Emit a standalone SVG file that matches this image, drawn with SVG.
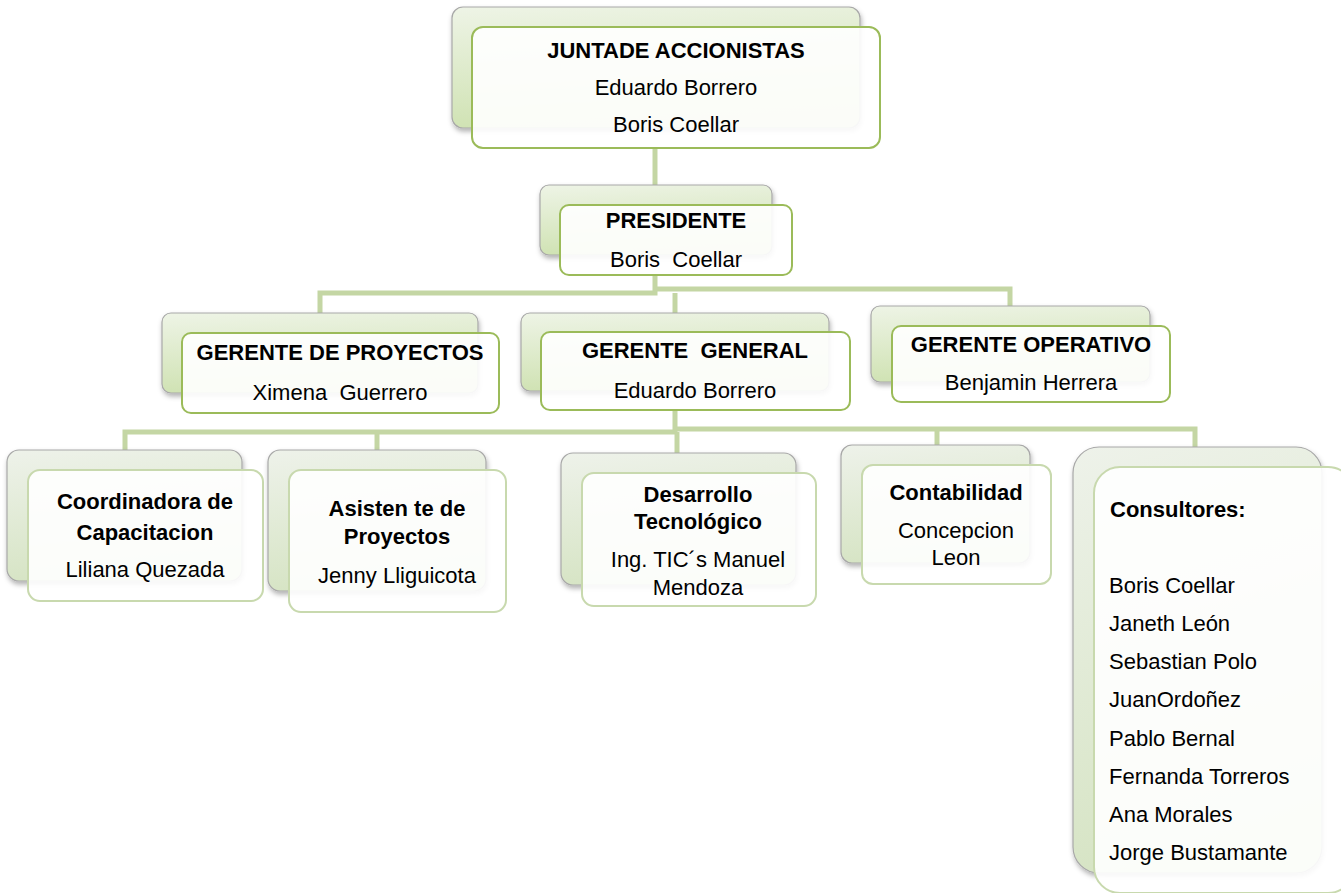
<svg xmlns="http://www.w3.org/2000/svg" width="1341" height="893" viewBox="0 0 1341 893">
<defs>
<linearGradient id="gBackTop" x1="0" y1="0" x2="0.2" y2="1">
<stop offset="0" stop-color="#eef4e6"/>
<stop offset="1" stop-color="#cfe2b2"/>
</linearGradient>
<linearGradient id="gBack" x1="0" y1="0" x2="0.2" y2="1">
<stop offset="0" stop-color="#eef2ea"/>
<stop offset="1" stop-color="#d6e4c4"/>
</linearGradient>
<filter id="sh" x="-10%" y="-10%" width="120%" height="130%">
<feDropShadow dx="1" dy="3" stdDeviation="2.5" flood-color="#000" flood-opacity="0.3"/>
</filter>
</defs>
<style>
.back{fill:url(#gBack);stroke:#a8a8a8;stroke-width:1.2;filter:url(#sh)}
.backTop{fill:url(#gBackTop);stroke:#a8a8a8;stroke-width:1.2;filter:url(#sh)}
.front{fill:#ffffff;fill-opacity:0.9;stroke:#c8d9ae;stroke-width:2}
.frontDark{fill:#ffffff;fill-opacity:0.9;stroke:#9bbb59;stroke-width:2}
.conn{fill:none;stroke:#c4d6a4;stroke-width:5}
text{font-family:"Liberation Sans Narrow","Arial Narrow","Liberation Sans",Arial,sans-serif;font-size:22px;fill:#000}
.b{font-weight:bold}
.c{text-anchor:middle}
</style>
<rect width="1341" height="893" fill="#ffffff"/>
<g id="connectors">
<path class="conn" d="M655,148 V187"/>
<path class="conn" d="M655,275 V293 H320 V316"/>
<path class="conn" d="M655,289 H1010 V308"/>
<path class="conn" d="M675,293 V315"/>
<path class="conn" d="M675,410 V432 H125 V452"/>
<path class="conn" d="M377,432 V452"/>
<path class="conn" d="M677,432 V455"/>
<path class="conn" d="M675,429 H1195 V449"/>
<path class="conn" d="M937,429 V446"/>
</g>
<g id="n-junta">
<rect class="backTop" x="452" y="7" width="408" height="121" rx="11"/>
<rect class="frontDark" x="472" y="27" width="408" height="121" rx="11"/>
<text class="b c" x="676" y="58">JUNTADE ACCIONISTAS</text>
<text class="c" x="676" y="95">Eduardo Borrero</text>
<text class="c" x="676" y="132">Boris Coellar</text>
</g>
<g id="n-presidente">
<rect class="backTop" x="540" y="185" width="232" height="70" rx="9"/>
<rect class="frontDark" x="560" y="205" width="232" height="70" rx="9"/>
<text class="b c" x="676" y="228">PRESIDENTE</text>
<text class="c" x="676" y="267" xml:space="preserve">Boris  Coellar</text>
</g>
<g id="n-gproyectos">
<rect class="backTop" x="162" y="313" width="316" height="80" rx="9"/>
<rect class="frontDark" x="182" y="333" width="317" height="80" rx="9"/>
<text class="b c" x="340" y="360">GERENTE DE PROYECTOS</text>
<text class="c" x="340" y="400" xml:space="preserve">Ximena  Guerrero</text>
</g>
<g id="n-ggeneral">
<rect class="backTop" x="521" y="313" width="308" height="78" rx="9"/>
<rect class="frontDark" x="541" y="332" width="309" height="78" rx="9"/>
<text class="b c" x="695" y="358" xml:space="preserve">GERENTE  GENERAL</text>
<text class="c" x="695" y="398">Eduardo Borrero</text>
</g>
<g id="n-goperativo">
<rect class="backTop" x="871" y="306" width="279" height="76" rx="9"/>
<rect class="frontDark" x="892" y="326" width="278" height="76" rx="9"/>
<text class="b c" x="1031" y="352">GERENTE OPERATIVO</text>
<text class="c" x="1031" y="390">Benjamin Herrera</text>
</g>
<g id="n-coordinadora">
<rect class="back" x="7" y="450" width="235" height="131" rx="12"/>
<rect class="front" x="28" y="470" width="235" height="131" rx="12"/>
<text class="b c" x="145" y="509">Coordinadora de</text>
<text class="b c" x="145" y="540">Capacitacion</text>
<text class="c" x="145" y="577">Liliana Quezada</text>
</g>
<g id="n-asistente">
<rect class="back" x="268" y="450" width="218" height="141" rx="12"/>
<rect class="front" x="289" y="470" width="217" height="142" rx="12"/>
<text class="b c" x="397" y="516">Asisten te de</text>
<text class="b c" x="397" y="544">Proyectos</text>
<text class="c" x="397" y="583">Jenny Lliguicota</text>
</g>
<g id="n-desarrollo">
<rect class="back" x="561" y="453" width="235" height="132" rx="12"/>
<rect class="front" x="582" y="473" width="234" height="133" rx="12"/>
<text class="b c" x="698" y="502">Desarrollo</text>
<text class="b c" x="698" y="529">Tecnológico</text>
<text class="c" x="698" y="567">Ing. TIC´s Manuel</text>
<text class="c" x="698" y="595">Mendoza</text>
</g>
<g id="n-contabilidad">
<rect class="back" x="841" y="445" width="189" height="118" rx="11"/>
<rect class="front" x="862" y="465" width="189" height="119" rx="11"/>
<text class="b c" x="956" y="500">Contabilidad</text>
<text class="c" x="956" y="538">Concepcion</text>
<text class="c" x="956" y="565">Leon</text>
</g>
<g id="n-consultores">
<rect class="back" x="1073" y="447" width="249" height="426" rx="26"/>
<rect class="front" x="1094" y="467" width="260" height="426" rx="26"/>
<text class="b" x="1110" y="517">Consultores:</text>
<text x="1109" y="593">Boris Coellar</text>
<text x="1109" y="631">Janeth León</text>
<text x="1109" y="669">Sebastian Polo</text>
<text x="1109" y="707">JuanOrdoñez</text>
<text x="1109" y="746">Pablo Bernal</text>
<text x="1109" y="784">Fernanda Torreros</text>
<text x="1109" y="822">Ana Morales</text>
<text x="1109" y="860">Jorge Bustamante</text>
</g>
</svg>
